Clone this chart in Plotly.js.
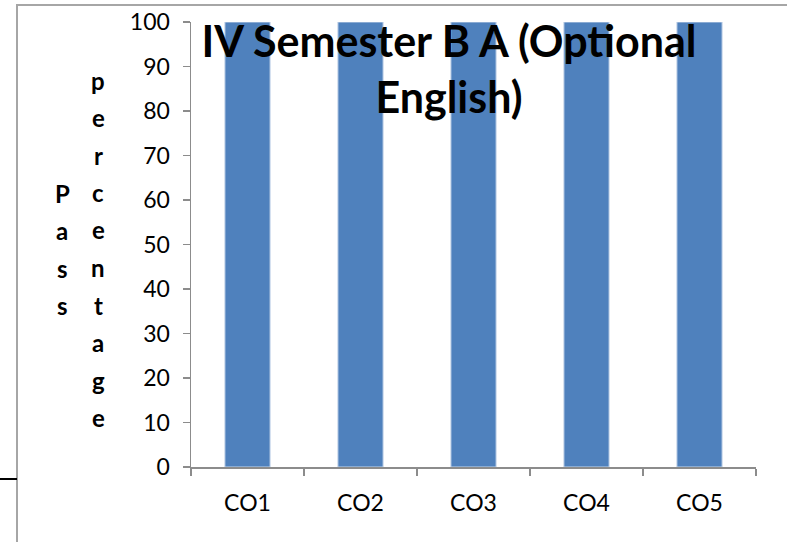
<!DOCTYPE html>
<html>
<head>
<meta charset="utf-8">
<script src="https://cdn.plot.ly/plotly-3.0.1.min.js"></script>
<style>html,body{margin:0;padding:0;background:#fff;}#chart{width:787px;height:542px;}</style>
</head>
<body>
<div id="chart"></div>
<script>
var categories = ["CO1", "CO2", "CO3", "CO4", "CO5"];
var passPercentage = [100, 100, 100, 100, 100];
var yTickValues = [0, 10, 20, 30, 40, 50, 60, 70, 80, 90, 100];
var chartTitle = "IV Semester B A (Optional<br>English)";
var yTitleWord1 = "Pass";
var yTitleWord2 = "percentage";

var W = 787, H = 542;
var L = 191, R = 31, T = 22, B = 75;
var pw = W - L - R, ph = H - T - B;
function px2x(x) { return (x - L) / pw; }
function px2y(y) { return (H - B - y) / ph; }

var FONT = "Lato, 'Noto Sans', sans-serif";
var annotations = [];
function stackWord(word, xpx, ypxFirst, step) {
  for (var i = 0; i < word.length; i++) {
    annotations.push({
      text: "<b>" + word[i] + "</b>", xref: "paper", yref: "paper",
      x: px2x(xpx), y: px2y(ypxFirst + i * step),
      showarrow: false, xanchor: "center", yanchor: "middle",
      font: {family: FONT, size: 24, color: "#000"}
    });
  }
}
stackWord(yTitleWord2, 98, 80, 37.5);
stackWord(yTitleWord1, 62, 193, 37.5);

var data = [{
  type: "bar", x: categories, y: passPercentage,
  marker: {color: "#4F81BD", line: {color: "#c7d6ea", width: 1}},
  hoverinfo: "none"
}];

var layout = {
  width: W, height: H,
  margin: {l: L, r: R, t: T, b: B, pad: 0},
  paper_bgcolor: "#fff", plot_bgcolor: "#fff",
  showlegend: false,
  bargap: 0.6,
  title: {
    text: chartTitle, xref: "container", yref: "container",
    x: 449 / W, xanchor: "center", y: 1 - 57 / H, yanchor: "top",
    font: {family: FONT, size: 43, color: "#000", weight: "bold"}
  },
  xaxis: {
    type: "category", showgrid: false, zeroline: false,
    showline: true, linecolor: "#8c8c8c", linewidth: 1.5,
    ticks: "outside", tickson: "boundaries", ticklen: 7, tickcolor: "#8c8c8c", tickwidth: 1.5,
    ticklabelstandoff: 15,
    tickfont: {family: FONT, size: 23, color: "#000"}
  },
  yaxis: {
    range: [0, 100], tickvals: yTickValues, showgrid: false, zeroline: false,
    showline: true, linecolor: "#8c8c8c", linewidth: 1.5,
    ticks: "outside", ticklen: 7, tickcolor: "#8c8c8c", tickwidth: 1.5,
    ticklabelstandoff: 8,
    tickfont: {family: FONT, size: 23, color: "#000"}
  },
  annotations: annotations,
  shapes: [
    {type: "rect", xref: "paper", yref: "paper",
     x0: px2x(17), x1: px2x(820), y0: px2y(580), y1: px2y(5),
     line: {color: "#a6a6a6", width: 2}, fillcolor: "rgba(0,0,0,0)", layer: "below"},
    {type: "line", xref: "paper", yref: "paper",
     x0: px2x(0), x1: px2x(17), y0: px2y(479), y1: px2y(479),
     line: {color: "#000", width: 2}}
  ]
};

Plotly.newPlot("chart", data, layout, {staticPlot: true, displayModeBar: false});
</script>
</body>
</html>
